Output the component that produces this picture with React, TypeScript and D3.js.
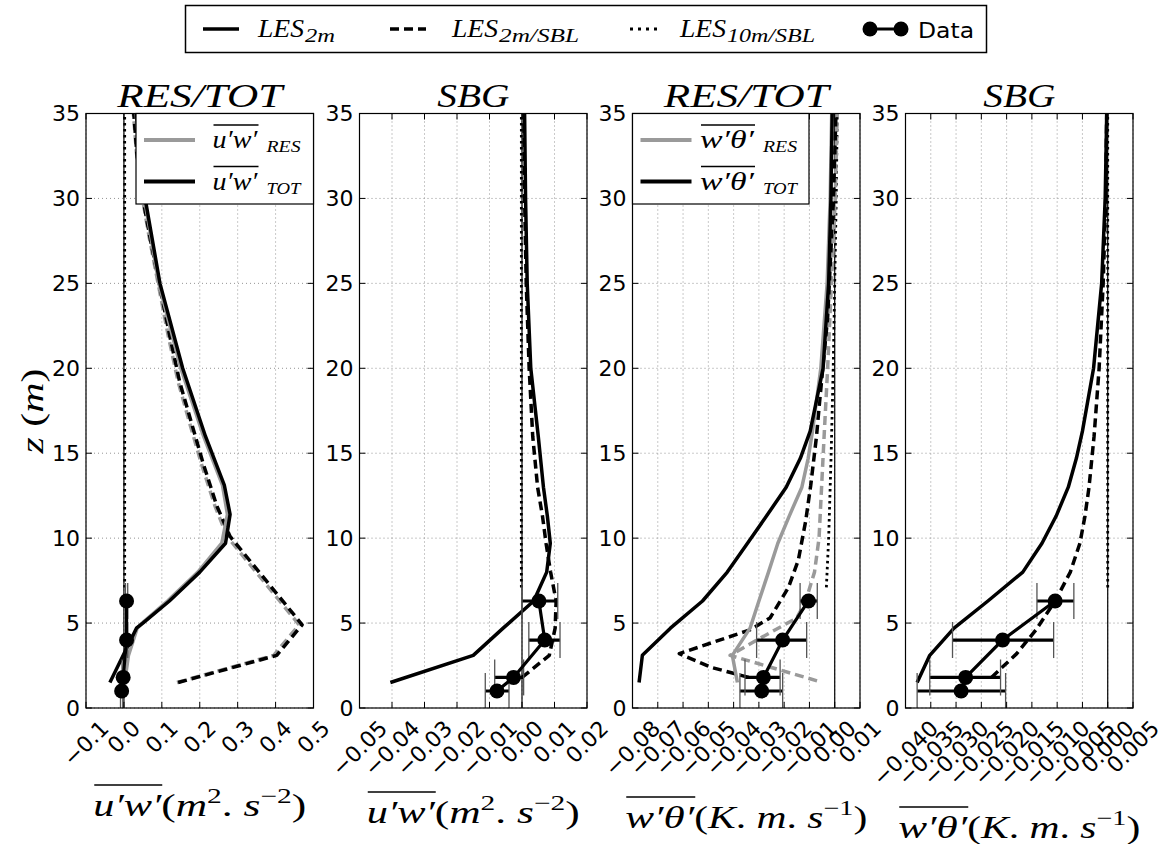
import React from 'react';
import * as d3 from 'd3';

type Pt = [number, number]; // [z (m), value]

// ---------------- data ----------------
const Z_TICKS = [0, 5, 10, 15, 20, 25, 30, 35];
const UW_TICKS = [-0.1, 0.0, 0.1, 0.2, 0.3, 0.4, 0.5];
const UW_SBG_TICKS = [-0.05, -0.04, -0.03, -0.02, -0.01, 0.0, 0.01, 0.02];
const WT_TICKS = [-0.08, -0.07, -0.06, -0.05, -0.04, -0.03, -0.02, -0.01, 0.0, 0.01];
const WT_SBG_TICKS = [-0.04, -0.035, -0.03, -0.025, -0.02, -0.015, -0.01, -0.005, 0.0, 0.005];

// panel 1 : u'w' RES / TOT
const UW_TOT_LES2M: Pt[] = [[1.5, -0.037], [4.7, 0.033], [5.0, 0.05], [6.3, 0.12], [8.0, 0.2], [9.7, 0.268], [11.4, 0.28], [13.1, 0.265], [16.0, 0.215], [20.0, 0.155], [25.0, 0.095], [30.0, 0.056], [35.0, 0.033]];
const UW_RES_LES2M: Pt[] = [[1.5, 0.002], [3.1, 0.012], [4.7, 0.035], [5.0, 0.048], [6.3, 0.115], [8.0, 0.195], [9.7, 0.258], [11.4, 0.273], [13.1, 0.26], [16.0, 0.21], [20.0, 0.15], [25.0, 0.092], [30.0, 0.054], [35.0, 0.032]];
const UW_TOT_SBL: Pt[] = [[1.5, 0.143], [3.1, 0.403], [4.9, 0.47], [10.1, 0.28], [11.9, 0.245], [14.4, 0.209], [16.8, 0.178], [19.2, 0.147], [21.9, 0.121], [24.9, 0.094], [27.8, 0.068], [30.5, 0.046], [32.7, 0.034], [35.0, 0.026]];
const UW_RES_SBL: Pt[] = [[1.5, 0.14], [3.1, 0.395], [4.9, 0.462], [10.1, 0.272], [11.9, 0.24], [14.4, 0.204], [16.8, 0.173], [19.2, 0.143], [21.9, 0.117], [24.9, 0.091], [27.8, 0.066], [30.5, 0.045], [32.7, 0.033], [35.0, 0.025]];
const UW_TOT_10M: Pt[] = [[7.1, 0.002], [12.0, 0.002], [18.0, 0.002], [24.0, 0.002], [30.0, 0.002], [35.0, 0.002]];

// panel 2 : u'w' SBG
const UW_SBG_LES2M: Pt[] = [[1.5, -0.0405], [3.1, -0.015], [4.7, -0.0058], [6.3, 0.0036], [8.0, 0.0076], [9.7, 0.0087], [11.3, 0.0078], [13.0, 0.0066], [16.0, 0.005], [20.0, 0.0027], [25.0, 0.0016], [30.0, 0.0011], [35.0, 0.0008]];
const UW_SBG_SBL: Pt[] = [[1.8, 0.0], [3.1, 0.0084], [4.7, 0.0102], [6.3, 0.0105], [8.0, 0.0088], [9.7, 0.0074], [11.3, 0.0063], [13.0, 0.0048], [16.0, 0.0033], [20.0, 0.0022], [25.0, 0.0013], [30.0, 0.0008], [35.0, 0.0006]];
const UW_SBG_10M: Pt[] = [[7.1, -0.0002], [12.0, -0.0002], [18.0, -0.0002], [24.0, -0.0002], [30.0, -0.0002], [35.0, -0.0002]];

// panel 3 : w'theta' RES / TOT
const WT_TOT_LES2M: Pt[] = [[1.5, -0.0774], [3.1, -0.0761], [4.7, -0.065], [6.3, -0.0523], [8.0, -0.0425], [9.7, -0.0345], [11.3, -0.027], [13.0, -0.0192], [14.7, -0.0136], [16.3, -0.0097], [20.0, -0.0046], [25.0, -0.0024], [30.0, -0.0015], [35.0, -0.001]];
const WT_RES_LES2M: Pt[] = [[1.5, -0.0385], [3.1, -0.0405], [4.7, -0.0335], [6.3, -0.03], [8.0, -0.0262], [9.7, -0.0225], [11.3, -0.018], [13.0, -0.013], [14.7, -0.0105], [16.3, -0.0088], [20.0, -0.0055], [25.0, -0.003], [30.0, -0.0018], [35.0, -0.0012]];
const WT_TOT_SBL: Pt[] = [[1.8, -0.034], [2.4, -0.049], [3.2, -0.0615], [4.6, -0.0335], [5.3, -0.0256], [7.1, -0.0183], [8.7, -0.0144], [11.0, -0.0115], [13.1, -0.0095], [16.0, -0.0072], [18.0, -0.006], [23.0, -0.0028], [30.0, -0.0005], [35.0, 0.0005]];
const WT_RES_SBL: Pt[] = [[1.6, -0.007], [3.1, -0.0414], [4.1, -0.0296], [5.3, -0.015], [6.3, -0.0115], [8.0, -0.008], [10.0, -0.0062], [13.0, -0.0052], [16.0, -0.0042], [20.0, -0.0028], [25.0, -0.0013], [30.0, 0.0002], [35.0, 0.001]];
const WT_TOT_10M: Pt[] = [[7.1, -0.0033], [10.0, -0.0024], [15.0, -0.0014], [20.0, -0.0006], [25.0, 0.0], [30.0, 0.0006], [35.0, 0.001]];

// panel 4 : w'theta' SBG
const WT_SBG_LES2M: Pt[] = [[1.5, -0.0377], [3.1, -0.0352], [4.7, -0.0304], [6.3, -0.0237], [8.0, -0.0168], [9.7, -0.013], [11.3, -0.0102], [13.0, -0.0078], [14.7, -0.0062], [16.3, -0.005], [20.0, -0.0028], [25.0, -0.0012], [30.0, -0.0005], [35.0, -0.0002]];
const WT_SBG_SBL: Pt[] = [[1.8, -0.023], [3.2, -0.018], [4.6, -0.0142], [6.3, -0.0104], [8.0, -0.0074], [9.7, -0.0055], [11.3, -0.0045], [13.0, -0.0037], [16.0, -0.0027], [20.0, -0.0017], [25.0, -0.0009], [30.0, -0.0004], [35.0, -0.0002]];
const WT_SBG_10M: Pt[] = [[7.1, 0.0], [12.0, 0.0], [18.0, 0.0], [24.0, 0.0], [30.0, 0.0], [35.0, 0.0]];

// measurements
const DATA_Z = [1.0, 1.8, 4.0, 6.3];
const UW_DATA = [-0.006, -0.002, 0.007, 0.007];
const UW_DATA_LO = [-0.009, -0.005, 0.004, 0.004];
const UW_DATA_HI = [-0.003, 0.001, 0.01, 0.01];
const UW_SBG_DATA = [-0.0077, -0.0026, 0.007, 0.0052];
const UW_SBG_DATA_LO = [-0.0113, -0.0084, 0.0021, 0.0];
const UW_SBG_DATA_HI = [-0.004, 0.0005, 0.0117, 0.011];
const WT_DATA = [-0.0289, -0.0282, -0.0206, -0.0104];
const WT_DATA_LO = [-0.0375, -0.0355, -0.0309, -0.0137];
const WT_DATA_HI = [-0.0206, -0.0216, -0.0111, -0.0069];
const WT_SBG_DATA = [-0.029, -0.0281, -0.0208, -0.0104];
const WT_SBG_DATA_LO = [-0.0377, -0.0352, -0.0307, -0.014];
const WT_SBG_DATA_HI = [-0.0202, -0.0212, -0.0107, -0.0067];

// ---------------- layout / style ----------------
const W = 1167;
const H = 844;
const TOP = 113.5;
const BOTTOM = 708;
const PW = 227.5;
const LEFTS = [86, 359.5, 632.5, 905.5];
const GRAY = '#9a9a9a';
const SANS = "'DejaVu Sans', sans-serif";
const SERIF = "'Liberation Serif', 'DejaVu Serif', serif";
const LW = 3.5;
const DASH = '9,5';
const DOT = '2.5,3.5';

type Series = { data: Pt[]; color: string; dash?: string; width?: number };
type PanelCfg = {
  domain: [number, number];
  ticks: number[];
  fmt: string;
  title: string;
  titleW: number;
  series: Series[];
  dv: number[];
  lo: number[];
  hi: number[];
  legend: null | 'uw' | 'wt';
  xlabel: 'uw' | 'wt';
  xlabelBase: number;
};

const PANELS: PanelCfg[] = [
  {
    domain: [-0.1, 0.5], ticks: UW_TICKS, fmt: '.1f', title: 'RES/TOT', titleW: 165,
    series: [
      { data: UW_TOT_10M, color: '#000', dash: DOT, width: 2.8 },
      { data: UW_RES_SBL, color: GRAY, dash: DASH },
      { data: UW_TOT_SBL, color: '#000', dash: DASH },
      { data: UW_RES_LES2M, color: GRAY },
      { data: UW_TOT_LES2M, color: '#000' },
    ],
    dv: UW_DATA, lo: UW_DATA_LO, hi: UW_DATA_HI, legend: 'uw', xlabel: 'uw', xlabelBase: 816,
  },
  {
    domain: [-0.05, 0.02], ticks: UW_SBG_TICKS, fmt: '.2f', title: 'SBG', titleW: 72,
    series: [
      { data: UW_SBG_10M, color: '#000', dash: DOT, width: 2.8 },
      { data: UW_SBG_SBL, color: '#000', dash: DASH },
      { data: UW_SBG_LES2M, color: '#000' },
    ],
    dv: UW_SBG_DATA, lo: UW_SBG_DATA_LO, hi: UW_SBG_DATA_HI, legend: null, xlabel: 'uw', xlabelBase: 823,
  },
  {
    domain: [-0.08, 0.01], ticks: WT_TICKS, fmt: '.2f', title: 'RES/TOT', titleW: 165,
    series: [
      { data: WT_TOT_10M, color: '#000', dash: DOT, width: 2.8 },
      { data: WT_RES_SBL, color: GRAY, dash: DASH },
      { data: WT_TOT_SBL, color: '#000', dash: DASH },
      { data: WT_RES_LES2M, color: GRAY },
      { data: WT_TOT_LES2M, color: '#000' },
    ],
    dv: WT_DATA, lo: WT_DATA_LO, hi: WT_DATA_HI, legend: 'wt', xlabel: 'wt', xlabelBase: 828,
  },
  {
    domain: [-0.04, 0.005], ticks: WT_SBG_TICKS, fmt: '.3f', title: 'SBG', titleW: 72,
    series: [
      { data: WT_SBG_10M, color: '#000', dash: DOT, width: 2.8 },
      { data: WT_SBG_SBL, color: '#000', dash: DASH },
      { data: WT_SBG_LES2M, color: '#000' },
    ],
    dv: WT_SBG_DATA, lo: WT_SBG_DATA_LO, hi: WT_SBG_DATA_HI, legend: null, xlabel: 'wt', xlabelBase: 838,
  },
];

const CHAR_W: Record<string, number> = { '−': 0.838, '.': 0.318, '-': 0.361 };
function textW(s: string, fs: number) {
  let w = 0;
  for (const c of s) w += CHAR_W[c] ?? 0.636;
  return w * fs;
}

function InnerLegend({ left, kind }: { left: number; kind: 'uw' | 'wt' }) {
  const bw = kind === 'uw' ? 177.5 : 176.5;
  const sym = kind === 'uw' ? 'u′w′' : 'w′θ′';
  const symW = kind === 'uw' ? 45 : 54;
  const bx = kind === 'uw' ? left + PW - bw : left;
  const tx = bx + (kind === 'uw' ? 76.5 : 67.5);
  const sx = tx + symW + 9;
  const rows = [
    { c: GRAY, sub: 'RES', ly: 140, base: 148 },
    { c: '#000', sub: 'TOT', ly: 181.5, base: 189.5 },
  ];
  return (
    <g>
      <rect x={bx} y={TOP} width={bw} height={90.5} fill="#fff" stroke="#000" strokeWidth={1.2} />
      {rows.map((r, i) => (
        <g key={i}>
          <line x1={bx + 8} x2={bx + 59} y1={r.ly} y2={r.ly} stroke={r.c} strokeWidth={LW + 0.5} />
          <text x={tx} y={r.base} fontFamily={SERIF} fontStyle="italic" fontSize={26} textLength={symW} lengthAdjust="spacingAndGlyphs">{sym}</text>
          <line x1={tx + 1} x2={tx + symW + 1} y1={r.base - 23} y2={r.base - 23} stroke="#000" strokeWidth={1.3} />
          <text x={sx} y={r.base + 4} fontFamily={SERIF} fontStyle="italic" fontSize={16} textLength={34} lengthAdjust="spacingAndGlyphs">{r.sub}</text>
        </g>
      ))}
    </g>
  );
}

function XLabel({ cx, base, kind }: { cx: number; base: number; kind: 'uw' | 'wt' }) {
  const aW = kind === 'uw' ? 68 : 69;
  const rW = kind === 'uw' ? 145 : 173;
  const x0 = cx - (aW + rW) / 2;
  return (
    <g fontFamily={SERIF} fontSize={31}>
      <text x={x0} y={base} fontStyle="italic" textLength={aW} lengthAdjust="spacingAndGlyphs">{kind === 'uw' ? 'u′w′' : 'w′θ′'}</text>
      <line x1={x0 + 1} x2={x0 + aW + 1} y1={base - 31} y2={base - 31} stroke="#000" strokeWidth={1.6} />
      {kind === 'uw' ? (
        <text x={x0 + aW} y={base} textLength={rW} lengthAdjust="spacingAndGlyphs">
          <tspan>(</tspan><tspan fontStyle="italic">m</tspan>
          <tspan dy={-13} fontSize={21}>2</tspan>
          <tspan dy={13}>. </tspan><tspan fontStyle="italic">s</tspan>
          <tspan dy={-13} fontSize={21}>−2</tspan>
          <tspan dy={13}>)</tspan>
        </text>
      ) : (
        <text x={x0 + aW} y={base} textLength={rW} lengthAdjust="spacingAndGlyphs">
          <tspan>(</tspan><tspan fontStyle="italic">K</tspan><tspan>. </tspan>
          <tspan fontStyle="italic">m</tspan><tspan>. </tspan><tspan fontStyle="italic">s</tspan>
          <tspan dy={-13} fontSize={21}>−1</tspan>
          <tspan dy={13}>)</tspan>
        </text>
      )}
    </g>
  );
}

function Panel({ cfg, i }: { cfg: PanelCfg; i: number }) {
  const left = LEFTS[i];
  const right = left + PW;
  const x = d3.scaleLinear().domain(cfg.domain).range([left, right]);
  const y = d3.scaleLinear().domain([0, 35]).range([BOTTOM, TOP]);
  const line = d3.line<Pt>().x((d) => x(d[1])).y((d) => y(d[0]));
  const fmt = d3.format(cfg.fmt);
  const clipId = `clip${i}`;
  const pts: Pt[] = DATA_Z.map((z, k) => [z, cfg.dv[k]]);
  const cx = left + PW / 2;
  const TICK = 6;
  const FS = 22;
  return (
    <g>
      <defs>
        <clipPath id={clipId}>
          <rect x={left} y={TOP} width={PW} height={BOTTOM - TOP} />
        </clipPath>
      </defs>
      {/* grid */}
      <g stroke="#888" strokeWidth={0.9} strokeDasharray="1,3">
        {cfg.ticks.map((t, k) => (
          <line key={'gx' + k} x1={x(t)} x2={x(t)} y1={TOP} y2={BOTTOM} />
        ))}
        {Z_TICKS.map((t, k) => (
          <line key={'gy' + k} x1={left} x2={right} y1={y(t)} y2={y(t)} />
        ))}
      </g>
      <g clipPath={`url(#${clipId})`}>
        <line x1={x(0)} x2={x(0)} y1={TOP} y2={BOTTOM} stroke="#000" strokeWidth={1.2} />
        {cfg.series.map((s, k) => (
          <path key={k} d={line(s.data) || ''} fill="none" stroke={s.color} strokeWidth={s.width ?? LW}
            strokeDasharray={s.dash} strokeLinejoin="round" />
        ))}
        {/* error bars */}
        {DATA_Z.map((z, k) => (
          <g key={'e' + k}>
            <line x1={x(cfg.lo[k])} x2={x(cfg.hi[k])} y1={y(z)} y2={y(z)} stroke="#000" strokeWidth={3.2} />
            <line x1={x(cfg.lo[k])} x2={x(cfg.lo[k])} y1={y(z) - 18} y2={y(z) + 18} stroke="#555" strokeWidth={1.3} />
            <line x1={x(cfg.hi[k])} x2={x(cfg.hi[k])} y1={y(z) - 18} y2={y(z) + 18} stroke="#555" strokeWidth={1.3} />
          </g>
        ))}
        <path d={line(pts) || ''} fill="none" stroke="#000" strokeWidth={3.2} />
        {pts.map((p, k) => (
          <circle key={'c' + k} cx={x(p[1])} cy={y(p[0])} r={7.5} fill="#000" />
        ))}
      </g>
      {/* frame */}
      <rect x={left} y={TOP} width={PW} height={BOTTOM - TOP} fill="none" stroke="#000" strokeWidth={1.2} />
      {/* ticks */}
      <g stroke="#000" strokeWidth={1}>
        {cfg.ticks.map((t, k) => (
          <g key={'tx' + k}>
            <line x1={x(t)} x2={x(t)} y1={BOTTOM} y2={BOTTOM - TICK} />
            <line x1={x(t)} x2={x(t)} y1={TOP} y2={TOP + TICK} />
          </g>
        ))}
        {Z_TICKS.map((t, k) => (
          <g key={'ty' + k}>
            <line x1={left} x2={left + TICK} y1={y(t)} y2={y(t)} />
            <line x1={right} x2={right - TICK} y1={y(t)} y2={y(t)} />
          </g>
        ))}
      </g>
      {/* tick labels */}
      <g fontFamily={SANS} fontSize={FS} fill="#000">
        {Z_TICKS.map((t, k) => (
          <text key={'ly' + k} x={left - 6} y={y(t)} textAnchor="end" dominantBaseline="central">{t}</text>
        ))}
        {cfg.ticks.map((t, k) => {
          const s = fmt(t);
          const w = textW(s, FS);
          const bh = (w + 24) * Math.SQRT1_2;
          const cy = BOTTOM + 8 + bh / 2;
          return (
            <text key={'lx' + k} transform={`translate(${x(t)},${cy}) rotate(-45)`} textAnchor="middle" dominantBaseline="central">{s}</text>
          );
        })}
      </g>
      {/* title */}
      <text x={cx} y={106.5} textAnchor="middle" fontFamily={SERIF} fontStyle="italic" fontSize={33}
        textLength={cfg.titleW} lengthAdjust="spacingAndGlyphs">{cfg.title}</text>
      {cfg.legend && <InnerLegend left={left} kind={cfg.legend} />}
      <XLabel cx={cx} base={cfg.xlabelBase} kind={cfg.xlabel} />
    </g>
  );
}

function TopLegend() {
  const ly = 29;
  const base = 37;
  const items = [
    { hx: [203, 239], dash: undefined as string | undefined, tx: 258, sub: '2m', subW: 30 },
    { hx: [390, 426], dash: DASH, tx: 452, sub: '2m/SBL', subW: 80 },
    { hx: [630, 657], dash: '3,5', tx: 680, sub: '10m/SBL', subW: 88 },
  ];
  return (
    <g>
      <rect x={185.5} y={5.5} width={801} height={47} fill="#fff" stroke="#000" strokeWidth={1.5} />
      {items.map((it, k) => (
        <g key={k}>
          <line x1={it.hx[0]} x2={it.hx[1]} y1={ly} y2={ly} stroke="#000" strokeWidth={k === 2 ? 3 : LW} strokeDasharray={it.dash} />
          <text x={it.tx} y={base} fontFamily={SERIF} fontStyle="italic" fontSize={25} textLength={46} lengthAdjust="spacingAndGlyphs">LES</text>
          <text x={it.tx + 47} y={base + 5} fontFamily={SERIF} fontStyle="italic" fontSize={18} textLength={it.subW} lengthAdjust="spacingAndGlyphs">{it.sub}</text>
        </g>
      ))}
      <line x1={870} x2={901} y1={ly} y2={ly} stroke="#000" strokeWidth={3} />
      <circle cx={870} cy={ly} r={7.5} fill="#000" />
      <circle cx={901} cy={ly} r={7.5} fill="#000" />
      <text x={918} y={38} fontFamily={SANS} fontSize={22} textLength={56} lengthAdjust="spacingAndGlyphs">Data</text>
    </g>
  );
}

export default function App() {
  return (
    <svg width={W} height={H} viewBox={`0 0 ${W} ${H}`} style={{ position: 'absolute', left: 0, top: 0, background: '#fff' }}>
      <rect x={0} y={0} width={W} height={H} fill="#fff" />
      {PANELS.map((p, i) => (
        <Panel key={i} cfg={p} i={i} />
      ))}
      <TopLegend />
      <text transform={`translate(43,411) rotate(-90)`} textAnchor="middle" fontFamily={SERIF} fontSize={32}
        textLength={85} lengthAdjust="spacingAndGlyphs">
        <tspan fontStyle="italic">z</tspan><tspan> (</tspan><tspan fontStyle="italic">m</tspan><tspan>)</tspan>
      </text>
    </svg>
  );
}
